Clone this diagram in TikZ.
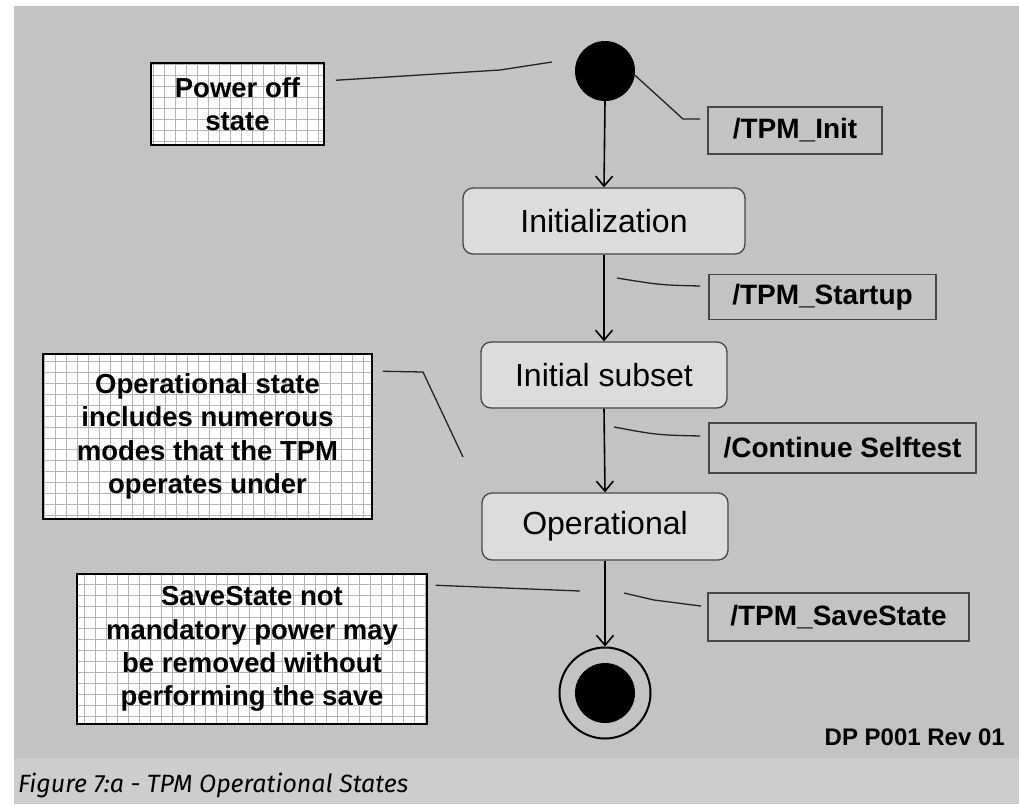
\documentclass[tikz,border=0pt]{standalone}
\usepackage{fontspec}
\setmainfont{Liberation Sans}
\newfontfamily\capfont{Fira Sans}
\usetikzlibrary{arrows.meta,calc}
\definecolor{pagegray}{RGB}{195,195,195}
\definecolor{capgray}{RGB}{205,205,205}
\definecolor{statefill}{RGB}{220,220,220}
\definecolor{gridgray}{RGB}{180,180,180}
\definecolor{edgegray}{RGB}{70,70,70}
\definecolor{leadgray}{RGB}{35,35,35}

\begin{document}
\begin{tikzpicture}[x=1pt,y=-1pt,
  statebox/.style={draw=edgegray, line width=1.3pt, fill=statefill,
    rounded corners=10pt, inner sep=0pt, font=\fontsize{32}{36}\selectfont},
  trigger/.style={draw=edgegray, line width=1.2pt, fill=pagegray, inner sep=0pt,
    font=\bfseries\fontsize{28}{32}\selectfont},
  note/.style={draw=black, line width=1.5pt, fill=white, inner sep=0pt, align=center,
    font=\bfseries\fontsize{27.5}{33.3}\selectfont,
    path picture={\draw[gridgray, line width=0.7pt, step=11pt]
      (path picture bounding box.south west) grid (path picture bounding box.north east);}},
  flow/.style={line width=1.6pt, -{Straight Barb[length=10pt,width=17pt,line width=1.6pt]}},
  leader/.style={draw=leadgray, line width=1.3pt},
  dot/.style={circle, fill=black, inner sep=0pt},
]
% page and caption band
\fill[white] (0,0) rectangle (1019,804);
\fill[pagegray] (14,6) rectangle (1019,758);
\fill[capgray] (14,758) rectangle (1019,804);

% states
\node[dot, minimum size=60pt] (start) at (605,71) {};
\node[statebox, minimum width=282pt, minimum height=66pt] (init) at (604,221) {Initialization};
\node[statebox, minimum width=246pt, minimum height=66pt] (subset) at (604,375) {Initial subset};
\node[statebox, minimum width=246pt, minimum height=67pt] (oper) at (605,526.5) {Operational};
\node[circle, draw=black, line width=2pt, minimum size=91pt, inner sep=0pt] (final) at (605,693) {};
\node[dot, minimum size=60pt] (finaldot) at (final.center) {};

% transitions
\draw[flow] (start.south) -- (init.north);
\draw[flow] (init.south) -- (subset.north);
\draw[flow] (subset.south) -- (oper.north);
\draw[flow] (oper.south) -- (final.north);

% trigger labels
\node[trigger, minimum width=174pt, minimum height=47pt] (linit) at (795,130.5) {/TPM\_Init};
\node[trigger, minimum width=227pt, minimum height=45pt] (lstart) at (822.5,297) {/TPM\_Startup};
\node[trigger, minimum width=267pt, minimum height=50pt] (lcont) at (842.5,448) {/Continue Selftest};
\node[trigger, minimum width=261pt, minimum height=48pt] (lsave) at (838.5,617) {/TPM\_SaveState};

% notes
\node[note, minimum width=173pt, minimum height=82pt] (npower) at (237.5,104) {Power off\\state};
\node[note, minimum width=329pt, minimum height=165pt] (noper) at (207.5,436.5)
  {Operational state\\includes numerous\\modes that the TPM\\operates under};
\node[note, minimum width=350pt, minimum height=150pt] (nsave) at (252,649)
  {SaveState not\\mandatory power may\\be removed without\\performing the save};

% leader line ends
\coordinate (pw1) at (500,70);
\coordinate (pw2) at (552,62);
\coordinate (in1) at (683,119);
\coordinate (in2) at (700,119);
\coordinate (st1) at (617,278);
\coordinate (st2) at (700,286);
\coordinate (co1) at (614,427);
\coordinate (co2) at (700,436);
\coordinate (op1) at (423,372);
\coordinate (op2) at (463,457);
\coordinate (sv1) at (624,593);
\coordinate (sv2) at (654,600);
\coordinate (sv3) at (701,606);
\coordinate (ns2) at (580,591);

% leader lines
\draw[leader] ($(npower.north east)+(11,18)$) -- (pw1) -- (pw2);
\draw[leader] (start.-8) -- (in1) -- (in2);
\draw[leader] (st1) .. controls (660,285) .. (st2);
\draw[leader] (co1) .. controls (657,435) .. (co2);
\draw[leader] ($(noper.north east)+(10,18)$) -- (op1) -- (op2);
\draw[leader] (sv1) -- (sv2) -- (sv3);
\draw[leader] ($(nsave.north east)+(8,12)$) -- (ns2);

% revision tag and caption
\node[anchor=east, font=\bfseries\fontsize{24}{28}\selectfont, inner sep=0pt] (rev) at (1005,737) {DP P001 Rev 01};
\node[anchor=base west, font=\capfont\itshape\fontsize{25}{29}\selectfont, inner sep=0pt] (cap) at (18,792)
  {Figure 7:a - TPM Operational States};
\end{tikzpicture}
\end{document}
